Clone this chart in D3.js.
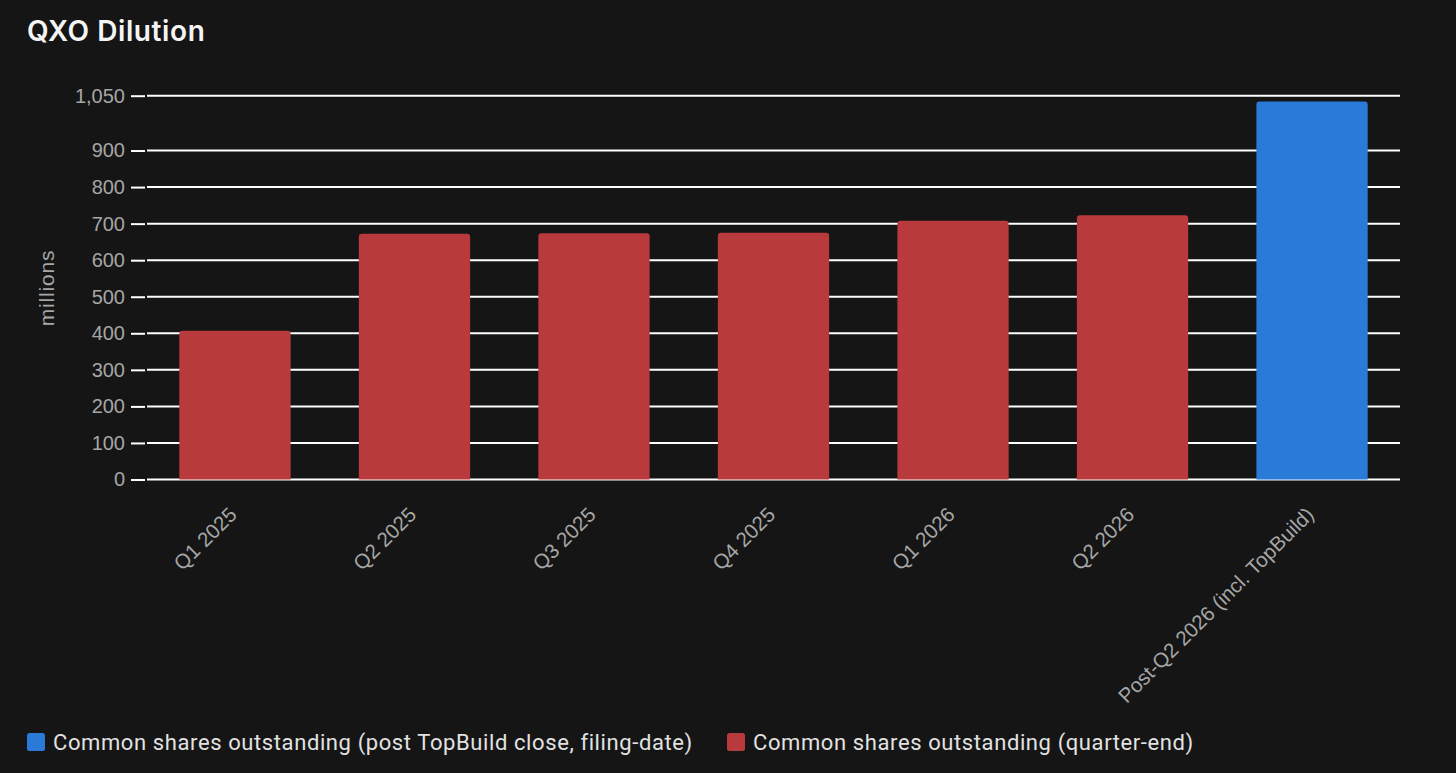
<!DOCTYPE html>
<meta charset="utf-8">
<style>
body { margin: 0; background: #151515; }
svg { display: block; font-family: "Liberation Sans", Arial, sans-serif; }
.title { font-family: Inter, "Open Sans", sans-serif; font-weight: 600; fill: #f4f4f4; }
.legend text { font-family: Roboto, "Noto Sans", sans-serif; fill: #e2e2e2; }
</style>
<svg width="1456" height="773"></svg>
<script src="https://d3js.org/d3.v7.min.js"></script>
<script>

// data
var periods = ["Q1 2025", "Q2 2025", "Q3 2025", "Q4 2025", "Q1 2026", "Q2 2026", "Post-Q2 2026 (incl. TopBuild)"];
var shares = [407, 672, 674, 675, 708, 723, 1034];
var seriesOf = ["quarter", "quarter", "quarter", "quarter", "quarter", "quarter", "post"];
var yTicks = [0, 100, 200, 300, 400, 500, 600, 700, 800, 900, 1050];
var seriesNames = ["Common shares outstanding (post TopBuild close, filing-date)", "Common shares outstanding (quarter-end)"];
var seriesKeys = ["post", "quarter"];

var colors = { post: "#2a7ad8", quarter: "#b83a3c" };

var svg = d3.select("svg"),
    width = +svg.attr("width"),
    height = +svg.attr("height");

svg.append("rect").attr("width", width).attr("height", height).attr("fill", "#151515");

svg.append("text")
    .attr("class", "title")
    .attr("x", 27)
    .attr("y", 41)
    .attr("font-size", 28)
    .attr("letter-spacing", 0.6)
    .text("QXO Dilution");

var x = d3.scaleBand()
    .domain(periods)
    .range([147, 1400])
    .paddingInner(0.38)
    .paddingOuter(0.18);

var y = d3.scaleLinear()
    .domain([0, 1050])
    .range([479.5, 95.7]);

// gridlines
svg.append("g")
  .selectAll("line")
  .data(yTicks)
  .enter().append("line")
    .attr("x1", 147)
    .attr("x2", 1400)
    .attr("y1", function(d) { return y(d); })
    .attr("y2", function(d) { return y(d); })
    .attr("stroke", "#fff")
    .attr("stroke-width", 2);

// y axis
var yAxis = svg.append("g")
    .attr("transform", "translate(145,0)")
    .call(d3.axisLeft(y)
      .tickValues(yTicks)
      .tickSize(14)
      .tickPadding(6)
      .tickFormat(d3.format(",")));
yAxis.select(".domain").remove();
yAxis.selectAll(".tick line").attr("stroke", "#fff").attr("stroke-width", 2);
yAxis.selectAll(".tick text")
    .attr("fill", "#a6a6a6")
    .attr("font-size", 20)
    .attr("font-family", "Liberation Sans, Arial, sans-serif");

svg.append("text")
    .attr("transform", "translate(54,288) rotate(-90)")
    .attr("text-anchor", "middle")
    .attr("fill", "#a6a6a6")
    .attr("font-size", 21)
    .attr("letter-spacing", 0.8)
    .text("millions");

// bars with rounded tops
function barPath(d, i) {
  var x0 = x(periods[i]), w = x.bandwidth(), y0 = y(0), y1 = y(d), r = 3;
  return "M" + x0 + "," + y0 +
    "V" + (y1 + r) + "Q" + x0 + "," + y1 + " " + (x0 + r) + "," + y1 +
    "H" + (x0 + w - r) + "Q" + (x0 + w) + "," + y1 + " " + (x0 + w) + "," + (y1 + r) +
    "V" + y0 + "Z";
}

svg.append("g")
  .selectAll("path")
  .data(shares)
  .enter().append("path")
    .attr("d", barPath)
    .attr("fill", function(d, i) { return colors[seriesOf[i]]; });

// x labels
svg.append("g")
  .selectAll("text")
  .data(periods)
  .enter().append("text")
    .attr("transform", function(d) {
      return "translate(" + (x(d) + x.bandwidth() / 2 + 3) + ",516) rotate(-45)";
    })
    .attr("text-anchor", "end")
    .attr("fill", "#a6a6a6")
    .attr("font-size", 20.5)
    .text(function(d) { return d; });

// legend
var legendX = [27, 727];
var lg = svg.append("g").attr("class", "legend");
seriesKeys.forEach(function(k, i) {
  lg.append("rect")
      .attr("x", legendX[i])
      .attr("y", 733)
      .attr("width", 18)
      .attr("height", 18)
      .attr("rx", 2.5)
      .attr("fill", colors[k]);
  lg.append("text")
      .attr("x", legendX[i] + 26)
      .attr("y", 750)
      .attr("font-size", 22)
      .attr("letter-spacing", 0.6)
      .text(seriesNames[i]);
});

</script>
